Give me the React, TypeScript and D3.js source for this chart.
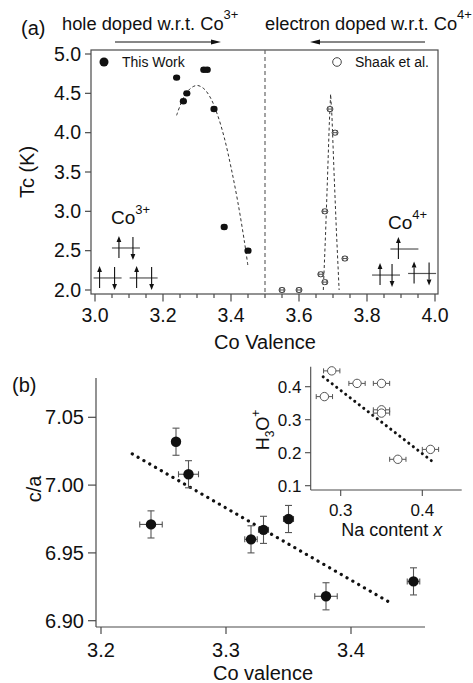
import * as d3 from "d3";

const W = 473;
const H = 683;
const FONT = "'Liberation Sans', Arial, Helvetica, sans-serif";
const AX = "#4a4a4a";

// ---- panel (a): Tc vs Co valence
const ourValence = [3.24, 3.26, 3.27, 3.32, 3.33, 3.35, 3.38, 3.45];
const ourTc = [4.7, 4.4, 4.5, 4.8, 4.8, 4.3, 2.8, 2.5];
const shaakValence = [3.55, 3.6, 3.664, 3.676, 3.676, 3.691, 3.706, 3.735];
const shaakTc = [2.0, 2.0, 2.2, 2.1, 3.0, 4.3, 4.0, 2.4];
const ourFitX = [3.24, 3.26, 3.28, 3.3, 3.32, 3.34, 3.36, 3.38, 3.4, 3.42, 3.44, 3.45];
const ourFitY = [4.22, 4.44, 4.56, 4.6, 4.56, 4.44, 4.23, 3.94, 3.56, 3.12, 2.6, 2.3];
const shaakFitX = [3.6715, 3.678, 3.684, 3.689, 3.693, 3.697, 3.703, 3.71, 3.718];
const shaakFitY = [2.0, 2.7, 3.45, 4.1, 4.49, 4.2, 3.5, 2.75, 2.0];
const tcTicks = [2.0, 2.5, 3.0, 3.5, 4.0, 4.5, 5.0];
const valTicksA = [3.0, 3.2, 3.4, 3.6, 3.8, 4.0];

// ---- panel (b): c/a vs Co valence
const caValence = [3.24, 3.26, 3.27, 3.32, 3.33, 3.35, 3.38, 3.45];
const ca = [6.971, 7.032, 7.008, 6.96, 6.967, 6.975, 6.918, 6.929];
const caXErr = [0.009, 0.003, 0.008, 0.005, 0.004, 0.004, 0.009, 0.005];
const caYErr = [0.01, 0.01, 0.01, 0.01, 0.01, 0.01, 0.01, 0.01];
const caFitX = [3.225, 3.43];
const caFitY = [7.023, 6.914];
const caTicks = [6.9, 6.95, 7.0, 7.05];
const valTicksB = [3.2, 3.3, 3.4];

// ---- inset: H3O+ vs Na content
const naContent = [0.289, 0.28, 0.32, 0.35, 0.35, 0.35, 0.37, 0.41];
const h3o = [0.448, 0.37, 0.41, 0.41, 0.33, 0.32, 0.18, 0.21];
const naErr = [0.01, 0.01, 0.01, 0.01, 0.01, 0.01, 0.01, 0.01];
const h3oFitX = [0.2785, 0.411];
const h3oFitY = [0.43, 0.176];
const h3oTicks = [0.1, 0.2, 0.3, 0.4];
const naTicks = [0.3, 0.4];

// orbital level diagrams (data coords of panel a): [cx, y, arrows(dx px, +1 up / -1 down)]
const co3Levels: [number, number, [number, number][]][] = [
  [3.091, 2.534, [[-7, 1], [7, -1]]],
  [3.037, 2.153, [[-8, 1], [7, -1]]],
  [3.143, 2.153, [[-7, 1], [8, -1]]],
];
const co4Levels: [number, number, [number, number][]][] = [
  [3.91, 2.521, [[-6, 1]]],
  [3.856, 2.19, [[-6, 1], [6, -1]]],
  [3.962, 2.21, [[-8, 1], [7, -1]]],
];

function Arrow({ x1, y1, x2, y2, head = 6, hw = 2.6, color = "#111", sw = 1.1 }: any) {
  const a = Math.atan2(y2 - y1, x2 - x1);
  const bx = x2 - head * Math.cos(a);
  const by = y2 - head * Math.sin(a);
  const px = -Math.sin(a) * hw;
  const py = Math.cos(a) * hw;
  return (
    <g>
      <line x1={x1} y1={y1} x2={bx} y2={by} stroke={color} strokeWidth={sw} />
      <path d={`M${x2},${y2}L${bx + px},${by + py}L${bx - px},${by - py}Z`} fill={color} />
    </g>
  );
}

export default function App() {
  // panel (a) scales
  const xA = d3.scaleLinear().domain([3.0, 4.0]).range([95, 435]);
  const yA = d3.scaleLinear().domain([2.0, 5.0]).range([290, 54]);
  const fA = { left: 91, right: 438, top: 50, bottom: 294 };
  const minorA = d3.range(3.0, 4.0001, 0.05);

  // panel (b) scales
  const xB = d3.scaleLinear().domain([3.2, 3.4]).range([101, 351]);
  const yB = d3.scaleLinear().domain([6.9, 7.05]).range([620.7, 417.3]);

  // inset scales
  const xI = d3.scaleLinear().domain([0.3, 0.4]).range([340.7, 422.3]);
  const yI = d3.scaleLinear().domain([0.1, 0.4]).range([485.7, 386.7]);

  const lineA = d3.line<[number, number]>().x((d) => xA(d[0])).y((d) => yA(d[1])).curve(d3.curveCatmullRom);
  const ourFit = lineA(ourFitX.map((x, i) => [x, ourFitY[i]]));
  const shaakFit = d3.line<[number, number]>().x((d) => xA(d[0])).y((d) => yA(d[1]))(
    shaakFitX.map((x, i) => [x, shaakFitY[i]])
  );

  const levels = (specs: typeof co3Levels) =>
    specs.map(([cx, y, arrows], i) => {
      const px = xA(cx);
      const py = yA(y);
      return (
        <g key={i}>
          <line x1={px - 14} x2={px + 14} y1={py} y2={py} stroke="#555" strokeWidth={1.2} />
          {arrows.map(([dx, dir], j) =>
            dir > 0 ? (
              <Arrow key={j} x1={px + dx} y1={py + 10} x2={px + dx} y2={py - 12} head={6} hw={2.4} />
            ) : (
              <Arrow key={j} x1={px + dx} y1={py - 11} x2={px + dx} y2={py + 12} head={6} hw={2.4} />
            )
          )}
        </g>
      );
    });

  return (
    <svg
      width={W}
      height={H}
      style={{ position: "absolute", left: 0, top: 0, background: "#fff" }}
      fontFamily={FONT}
    >
      <rect width={W} height={H} fill="#fff" />

      {/* ===== header of (a) ===== */}
      <text x={21} y={35} fontSize={20} fill="#111">(a)</text>
      <text x={62} y={30} fontSize={18.3} fill="#111">
        hole doped w.r.t. Co<tspan dy={-11} fontSize={13}>3+</tspan>
      </text>
      <text x={265} y={30} fontSize={18.3} fill="#111">
        electron doped w.r.t. Co<tspan dy={-11} fontSize={13}>4+</tspan>
      </text>
      <Arrow x1={115} y1={42} x2={221} y2={42} head={10} hw={2.6} sw={1} />
      <Arrow x1={425} y1={42} x2={310} y2={42} head={10} hw={2.6} sw={1} />

      {/* ===== panel (a) frame & axes ===== */}
      <rect
        x={fA.left}
        y={fA.top}
        width={fA.right - fA.left}
        height={fA.bottom - fA.top}
        fill="none"
        stroke={AX}
        strokeWidth={1.2}
      />
      {tcTicks.map((t) => (
        <g key={t}>
          <line x1={fA.left - 6} x2={fA.left} y1={yA(t)} y2={yA(t)} stroke={AX} strokeWidth={1.2} />
          <text x={81} y={yA(t)} dy="0.35em" textAnchor="end" fontSize={19.5} fill="#111">
            {t.toFixed(1)}
          </text>
        </g>
      ))}
      {minorA.map((t, i) => (
        <line
          key={i}
          x1={xA(t)}
          x2={xA(t)}
          y1={fA.bottom}
          y2={fA.bottom + (i % 4 === 0 ? 7.5 : 4)}
          stroke={AX}
          strokeWidth={1.2}
        />
      ))}
      {valTicksA.map((t) => (
        <text key={t} x={xA(t)} y={322} textAnchor="middle" fontSize={19.5} fill="#111">
          {t.toFixed(1)}
        </text>
      ))}
      <text x={265} y={349} textAnchor="middle" fontSize={20} fill="#111">Co Valence</text>
      <text transform="translate(34,172) rotate(-90)" textAnchor="middle" fontSize={20} fill="#111">
        Tc (K)
      </text>

      {/* divider at valence 3.5 */}
      <line
        x1={xA(3.5)}
        x2={xA(3.5)}
        y1={fA.top}
        y2={fA.bottom}
        stroke="#666"
        strokeWidth={1.2}
        strokeDasharray="4 3"
      />

      {/* legend */}
      <circle cx={104} cy={62} r={4.5} fill="#111" />
      <text x={122} y={67} fontSize={14} fill="#111">This Work</text>
      <circle cx={337} cy={62} r={4.3} fill="#fff" stroke="#444" strokeWidth={1} />
      <text x={355} y={67} fontSize={14} fill="#111">Shaak et al.</text>

      {/* fits */}
      <path d={ourFit ?? ""} fill="none" stroke="#333" strokeWidth={1} strokeDasharray="3 2.5" />
      <path d={shaakFit ?? ""} fill="none" stroke="#333" strokeWidth={1} strokeDasharray="3 2.5" />

      {/* this work points */}
      {ourValence.map((v, i) => {
        const cx = xA(v);
        const cy = yA(ourTc[i]);
        const e = xA(v + 0.006) - cx;
        return (
          <g key={i}>
            <line x1={cx - e} x2={cx + e} y1={cy} y2={cy} stroke="#111" strokeWidth={1} />
            <line x1={cx - e} x2={cx - e} y1={cy - 2.5} y2={cy + 2.5} stroke="#111" strokeWidth={1} />
            <line x1={cx + e} x2={cx + e} y1={cy - 2.5} y2={cy + 2.5} stroke="#111" strokeWidth={1} />
            <ellipse cx={cx} cy={cy} rx={3.6} ry={3.2} fill="#111" />
          </g>
        );
      })}

      {/* Shaak et al. points */}
      {shaakValence.map((v, i) => {
        const cx = xA(v);
        const cy = yA(shaakTc[i]);
        const e = xA(v + 0.006) - cx;
        return (
          <g key={i}>
            <ellipse cx={cx} cy={cy} rx={3} ry={2.6} fill="#fff" stroke="#444" strokeWidth={1} />
            <line x1={cx - e} x2={cx + e} y1={cy} y2={cy} stroke="#444" strokeWidth={0.9} />
            <line x1={cx - e} x2={cx - e} y1={cy - 2.5} y2={cy + 2.5} stroke="#444" strokeWidth={0.9} />
            <line x1={cx + e} x2={cx + e} y1={cy - 2.5} y2={cy + 2.5} stroke="#444" strokeWidth={0.9} />
          </g>
        );
      })}

      {/* orbital diagrams */}
      <text x={111} y={224} fontSize={19} fill="#111">
        Co<tspan dy={-10} fontSize={13}>3+</tspan>
      </text>
      {levels(co3Levels)}
      <text x={388} y={229} fontSize={19} fill="#111">
        Co<tspan dy={-10} fontSize={13}>4+</tspan>
      </text>
      {levels(co4Levels)}

      {/* ===== panel (b) ===== */}
      <text x={12} y={392} fontSize={20} fill="#111">(b)</text>
      <line x1={96} x2={96} y1={378} y2={627} stroke={AX} strokeWidth={1.2} />
      <line x1={96} x2={425} y1={627} y2={627} stroke={AX} strokeWidth={1.2} />
      {caTicks.map((t) => (
        <g key={t}>
          <line x1={88} x2={96} y1={yB(t)} y2={yB(t)} stroke={AX} strokeWidth={1.2} />
          <text x={84} y={yB(t)} dy="0.35em" textAnchor="end" fontSize={20} fill="#111">
            {t.toFixed(2)}
          </text>
        </g>
      ))}
      {valTicksB.map((t) => (
        <g key={t}>
          <line x1={xB(t)} x2={xB(t)} y1={627} y2={634} stroke={AX} strokeWidth={1.2} />
          <text x={xB(t)} y={657} textAnchor="middle" fontSize={20} fill="#111">
            {t.toFixed(1)}
          </text>
        </g>
      ))}
      <text x={263} y={680} textAnchor="middle" fontSize={20} fill="#111">Co valence</text>
      <text transform="translate(41,489) rotate(-90)" textAnchor="middle" fontSize={20} fill="#111">
        c/a
      </text>

      <line
        x1={xB(caFitX[0])}
        y1={yB(caFitY[0])}
        x2={xB(caFitX[1])}
        y2={yB(caFitY[1])}
        stroke="#111"
        strokeWidth={3.2}
        strokeLinecap="round"
        strokeDasharray="0.1 6.6"
      />

      {caValence.map((v, i) => {
        const cx = xB(v);
        const cy = yB(ca[i]);
        const ex = xB(v + caXErr[i]) - cx;
        const ey = cy - yB(ca[i] + caYErr[i]);
        return (
          <g key={i} stroke="#555" strokeWidth={1.1}>
            <line x1={cx - ex} x2={cx + ex} y1={cy} y2={cy} />
            <line x1={cx - ex} x2={cx - ex} y1={cy - 3} y2={cy + 3} />
            <line x1={cx + ex} x2={cx + ex} y1={cy - 3} y2={cy + 3} />
            <line x1={cx} x2={cx} y1={cy - ey} y2={cy + ey} />
            <line x1={cx - 3.5} x2={cx + 3.5} y1={cy - ey} y2={cy - ey} />
            <line x1={cx - 3.5} x2={cx + 3.5} y1={cy + ey} y2={cy + ey} />
            <circle cx={cx} cy={cy} r={5.2} fill="#111" stroke="none" />
          </g>
        );
      })}

      {/* ===== inset ===== */}
      <line x1={310.7} x2={310.7} y1={366.7} y2={490} stroke={AX} strokeWidth={1.1} />
      <line x1={310.7} x2={461.7} y1={490} y2={490} stroke={AX} strokeWidth={1.1} />
      {h3oTicks.map((t) => (
        <g key={t}>
          <line x1={305} x2={310.7} y1={yI(t)} y2={yI(t)} stroke={AX} strokeWidth={1.1} />
          <text x={301.5} y={yI(t)} dy="0.35em" textAnchor="end" fontSize={17} fill="#111">
            {t.toFixed(1)}
          </text>
        </g>
      ))}
      {naTicks.map((t) => (
        <g key={t}>
          <line x1={xI(t)} x2={xI(t)} y1={490} y2={496} stroke={AX} strokeWidth={1.1} />
          <text x={xI(t)} y={516} textAnchor="middle" fontSize={17} fill="#111">
            {t.toFixed(1)}
          </text>
        </g>
      ))}
      <text x={391.7} y={536} textAnchor="middle" fontSize={18} fill="#111">
        Na content <tspan fontStyle="italic">x</tspan>
      </text>
      <text transform="translate(269,430) rotate(-90)" textAnchor="middle" fontSize={18} fill="#111">
        H<tspan fontSize={12} dy={5}>3</tspan>
        <tspan dy={-5}>O</tspan>
        <tspan fontSize={12} dy={-9}>+</tspan>
      </text>

      <line
        x1={xI(h3oFitX[0])}
        y1={yI(h3oFitY[0])}
        x2={xI(h3oFitX[1])}
        y2={yI(h3oFitY[1])}
        stroke="#111"
        strokeWidth={3}
        strokeLinecap="round"
        strokeDasharray="0.1 5.6"
      />

      {naContent.map((v, i) => {
        const cx = xI(v);
        const cy = yI(h3o[i]);
        const e = xI(v + naErr[i]) - cx;
        return (
          <g key={i} stroke="#555" strokeWidth={1}>
            <line x1={cx - e} x2={cx + e} y1={cy} y2={cy} />
            <line x1={cx - e} x2={cx - e} y1={cy - 2.5} y2={cy + 2.5} />
            <line x1={cx + e} x2={cx + e} y1={cy - 2.5} y2={cy + 2.5} />
            <circle cx={cx} cy={cy} r={4.2} fill="#fff" />
          </g>
        );
      })}
    </svg>
  );
}
